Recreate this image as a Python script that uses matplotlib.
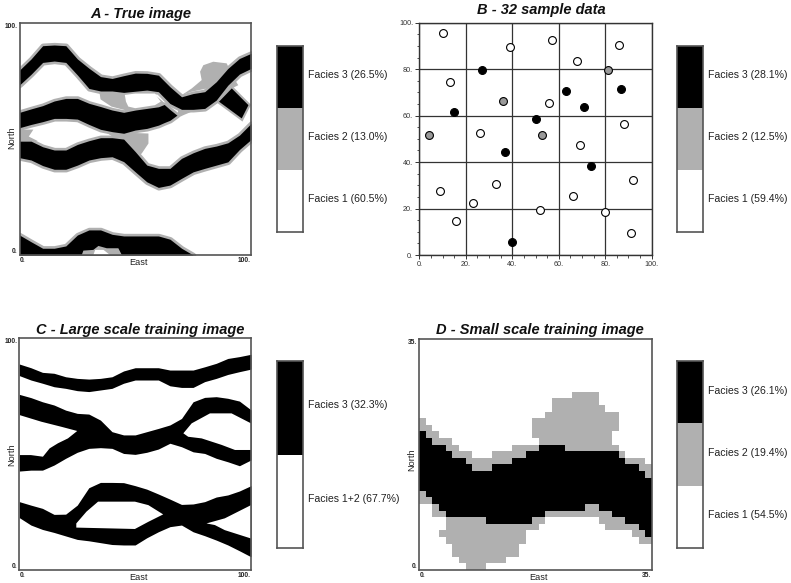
import numpy as np
import matplotlib
matplotlib.use("Agg")
import matplotlib.pyplot as plt
from matplotlib.colors import ListedColormap

W, H = 791, 583
GRAY = "#b0b0b0"
FRAME = "#555555"
plt.rcParams['font.family'] = ['Liberation Sans', 'DejaVu Sans']

titles = ["A - True image", "B - 32 sample data", "C - Large scale training image", "D - Small scale training image"]
legend_a = ["Facies 3 (26.5%)", "Facies 2 (13.0%)", "Facies 1 (60.5%)"]
legend_b = ["Facies 3 (28.1%)", "Facies 2 (12.5%)", "Facies 1 (59.4%)"]
legend_c = ["Facies 3 (32.3%)", "Facies 1+2 (67.7%)"]
legend_d = ["Facies 3 (26.1%)", "Facies 2 (19.4%)", "Facies 1 (54.5%)"]

east = [0,5,10,15,20,25,30,35,40,45,50,55,60,65,70,75,80,85,90,95,100]

# Panel A bands (north of upper / lower edge)
a1_top = [79.6,84.4,90.1,90.4,90.1,84.4,80.4,76.8,76,77.2,78.3,78.2,77.4,72.4,68.1,69.5,70.3,74.6,80.3,84.6,86.8]
a1_bot = [73.2,77.8,82.9,83.5,82.9,77.5,71.7,70.6,70.6,70,70.5,71,70.3,65.2,62.7,62.7,63.1,66.7,73.1,77.9,80.3]
a2_x = [0,5,10,15,20,25,30,35,40,45,50,55,60,62.5,65,68]
a2_top = [61.4,62.9,64.3,66.3,67.4,67.4,65.3,63.9,62.4,61.4,62.4,63.1,63.8,64.8,62.6,60.2]
a2_bot = [54.8,56.2,57.4,58.8,58.8,58.5,56.2,54.1,53.1,52.4,53.8,54.5,55.9,57,58,60.2]
a3_top = [49,49,46.6,45.2,45.2,47.6,49.2,50.5,50.5,49.9,44.5,38.7,37.3,37.3,41.6,44,45.9,46.9,48.3,51.6,56.6]
a3_bot = [41.9,40.9,38.5,36.9,36.9,38.7,40.9,41.9,42.3,40.2,35.8,31.5,29.1,30.1,33,35.8,37.3,38.7,40.1,45.4,49.7]
a4_x = [0,5,10,15,20,25,30,35,40,45,50,55,60,65,70,75]
a4_top = [8.6,5.7,2.9,2.9,3.9,8.6,10.8,10.8,8.9,8.2,8.2,8.2,8.2,6.8,2.9,0]

a_gray_patches = [
    [(78,78.9),(79.4,81.7),(83.7,83.2),(89.5,82.5),(90.2,81),(84.5,74.6),(80.9,71.7),(74.4,70.3),(70,68.8),(74.4,71.7),(78.7,75.3)],
    [(34.6,69.6),(40,70.5),(56,71),(62,66),(68,60.2),(64,62),(47,62),(39.7,63.9),(35,67)],
    [(37,53),(55.7,52.3),(55.7,48),(52.8,43.7),(50,42),(45,48)],
    [(0,54),(6,54),(4,51),(8,49),(0,49)],
    [(67.9,58.8),(70.8,60.2),(79.4,63.8),(74.4,64.5),(68.6,62.4)],
    [(84.5,65.2),(93.1,75.3),(94.5,73.1),(91.7,71.7),(86.6,66)],
    [(26.9,0),(27.6,1.9),(31.9,2.2),(34.1,3.9),(37.7,2.9),(42.7,2.9),(44.2,0)],
]
a_white_patches = [
    [(45.5,68.9),(50,69.5),(58.5,69.5),(61,66),(58.5,64.5),(50,63.2),(47,63.9),(46,66)],
    [(31.9,0),(32.7,2.2),(36.3,2.2),(39.1,0)],
]
a_diamond = [(86.2,66),(91.7,71.7),(98.9,64.5),(96,58.8)]

# Panel B samples
white_e = [10,39,57,68,86,13,56,88,26,69,9,33,23,16,52,66,80,92,91]
white_n = [95.5,89.5,92.5,83.5,90.5,74.5,65.5,56.5,52.5,47.5,27.5,30.5,22.5,14.5,19.5,25.5,18.5,32.5,9.5]
black_e = [27,15,63,71,87,50,37,74,40]
black_n = [79.5,61.5,70.5,63.5,71.5,58.5,44.5,38.5,5.5]
gray_e = [36,4,53,81]
gray_n = [66.5,51.5,51.5,79.5]

# Panel C
c1_top = [88.9,87.3,85.3,84.9,83.4,82.7,82.4,82.7,83.4,85.9,87.3,87.3,87.3,86.3,86.3,86.3,87.7,89.2,91.3,92.1,93.1]
c1_bot = [83.9,82,80.6,79.1,78.4,77.4,77,77.7,78.4,80.6,82,82,82,79.5,78.8,78.8,81.3,82.7,84.4,85.6,86.7]
c2_top = [75.8,74.4,72.6,71.2,69,67.6,67.3,64.7,59.7,58.3,58.3,59.7,61.1,62.6,65.4,72.6,74.5,74.8,74.1,72.9,69.1]
c2_bot = [42.7,43.1,43.1,45.3,48.2,50.8,52.5,52.8,52.5,50.3,49.9,50.8,52.2,54.7,53.2,51,50.3,48.2,46.7,45,47.5]
c3_top = [29.5,28,26.6,24,24.1,28,35.5,37.8,37.8,37.7,36.4,34.9,32.8,30.6,28.3,28.5,29.5,31.5,32.4,34.1,36.4]
c3_bot = [22.6,19.4,17.5,16.2,14.7,13.2,12.6,11.8,11,10.8,10.8,13.9,16.5,18.7,19.4,16.5,14.8,12.9,10.8,8.3,5.7]
c_white_patches = [
    [(0,66.9),(9.5,64),(18.2,61.8),(25,60),(21,56.8),(16.7,54.7),(13.1,52.5),(10.2,48.9),(5,49.6),(0,49.6)],
    [(70.8,59),(74.4,63.3),(82.3,67.6),(91.6,67.6),(100,63.3),(100,51.8),(93.1,51.8),(87.3,54),(78.7,56.8),(72.9,57.5)],
    [(24.6,20.1),(29,25.2),(34,29.5),(49.9,29.5),(55.7,28),(62.1,24),(55.7,20.8),(49.9,17.7),(24.6,18.3)],
    [(80.8,20.1),(88.7,22.3),(100,28),(100,13.6),(88.7,17.2),(84.4,19.4)],
]

# Panel D, per column cell rows
d_black_top = [21,20,19,19,18,17,17,16,15,15,15,16,16,16,17,17,18,18,19,19,19,19,18,18,18,18,18,18,18,18,17,16,16,15,14]
d_black_bot = [12,11,10,9,8,8,8,8,8,8,7,7,7,7,7,7,7,8,8,9,9,9,9,9,9,10,10,9,9,8,8,7,7,6,5]
d_gray_top = [23,22,21,20,20,19,18,18,17,17,17,18,18,18,19,19,19,23,23,24,26,26,26,27,27,27,27,25,24,24,18,17,17,17,16]
d_gray_bot = [10,10,8,8,4,2,1,0,0,0,1,1,1,2,2,4,6,6,7,8,8,8,8,8,8,8,8,7,6,6,6,6,5,4,4]
d_white_gap_cols = [17,29,29]
d_white_gap_rows = [19,19,20]
d_extra_gray_cols = [3]
d_extra_gray_rows = [5]


def rect(l, t, r, b):
    return [l/W, 1-b/H, (r-l)/W, (b-t)/H]

fig = plt.figure(figsize=(W/100, H/100), dpi=100)


def ptext(x, y, s, **kw):
    fig.text(x/W, 1-y/H, s, **kw)


def style(ax, hi):
    ax.set_xlim(0, hi)
    ax.set_ylim(0, hi)
    for s in ax.spines.values():
        s.set_color(FRAME)
        s.set_linewidth(1.2)
        s.set_zorder(10)
    ax.set_xticks([0, hi])
    ax.set_yticks([0, hi])
    ax.set_xticklabels(["0.", f"{hi}."], fontsize=4.8, fontweight='bold')
    ax.set_yticklabels(["0.", f"{hi}."], fontsize=4.8, fontweight='bold')
    ax.tick_params(length=0, pad=1.5, colors='#222222')
    xl = ax.get_xticklabels()
    xl[0].set_ha('left')
    xl[1].set_ha('right')
    yl = ax.get_yticklabels()
    yl[0].set_va('bottom')
    yl[1].set_va('top')


def colorbar(l, t, r, b, colors, labels, textx):
    ax = fig.add_axes(rect(l, t, r, b))
    n = len(colors)
    for i, c in enumerate(colors):
        ax.bar(0.5, 1, width=1, bottom=n-1-i, color=c, linewidth=0)
    ax.set_xlim(0, 1)
    ax.set_ylim(0, n)
    ax.set_xticks([])
    ax.set_yticks([])
    for s in ax.spines.values():
        s.set_color(FRAME)
        s.set_linewidth(1.2)
    step = (b-t)/n
    for i, lab in enumerate(labels):
        ptext(textx, t + step*(i+0.47)+0.5, lab, fontsize=7.55, va='center', ha='left', color='#222222')


def poly(ax, pts, **kw):
    p = np.array(pts)
    ax.fill(p[:, 0], p[:, 1], linewidth=0, **kw)


# A
axA = fig.add_axes(rect(19.5, 22.7, 251, 255))
style(axA, 100)
edge = dict(facecolor=GRAY, edgecolor=GRAY, linewidth=3.8)
axA.fill_between(east, a1_bot, a1_top, **edge)
axA.fill_between(a2_x, a2_bot, a2_top, **edge)
axA.fill_between(east, a3_bot, a3_top, **edge)
axA.fill_between(a4_x, 0, a4_top, **edge)
for pts in a_gray_patches:
    poly(axA, pts, color=GRAY)
p = np.array(a_diamond)
axA.fill(p[:, 0], p[:, 1], facecolor=GRAY, edgecolor=GRAY, linewidth=3.0)
for pts in a_white_patches:
    poly(axA, pts, color='white', zorder=3)
blk = dict(color='black', linewidth=0, zorder=4)
axA.fill_between(east, a1_bot, a1_top, **blk)
axA.fill_between(a2_x, a2_bot, a2_top, **blk)
axA.fill_between(east, a3_bot, a3_top, **blk)
axA.fill_between(a4_x, 0, a4_top, **blk)
poly(axA, a_diamond, color='black', zorder=4)
# hole in the lowest band sits on top of the black
poly(axA, a_gray_patches[-1], color=GRAY, zorder=5)
poly(axA, a_white_patches[-1], color='white', zorder=6)

# B
axB = fig.add_axes(rect(419.3, 22.7, 651.7, 255))
axB.set_xlim(0, 100)
axB.set_ylim(0, 100)
for s in axB.spines.values():
    s.set_color('#333333')
    s.set_linewidth(1.0)
maj = [0, 20, 40, 60, 80, 100]
axB.set_xticks(maj)
axB.set_yticks(maj)
axB.set_xticklabels([f"{v}." for v in maj], fontsize=5.2)
axB.set_yticklabels([f"{v}." for v in maj], fontsize=5.2)
axB.set_xticks(np.arange(0, 101, 5), minor=True)
axB.set_yticks(np.arange(0, 101, 5), minor=True)
axB.tick_params(which='major', length=3, width=0.7, pad=1.5, colors='#333333')
axB.tick_params(which='minor', length=1.8, width=0.6, colors='#333333')
axB.grid(True, which='major', color='#333333', linewidth=0.9)
axB.set_axisbelow(True)
mk = dict(s=32, edgecolors='black', linewidths=0.8, zorder=3)
axB.scatter(white_e, white_n, c='white', **mk)
axB.scatter(gray_e, gray_n, c='#999999', **mk)
axB.scatter(black_e, black_n, c='black', **mk)

# C
axC = fig.add_axes(rect(19.3, 338.3, 251, 570))
style(axC, 100)
axC.fill_between(east, c1_bot, c1_top, color='black', linewidth=0)
axC.fill_between(east, c2_bot, c2_top, color='black', linewidth=0)
axC.fill_between(east, c3_bot, c3_top, color='black', linewidth=0)
for pts in c_white_patches:
    poly(axC, pts, color='white', zorder=3)

# D
d_img = np.ones((35, 35), dtype=int)
for i in range(35):
    d_img[d_gray_bot[i]:d_gray_top[i], i] = 2
for c, r in zip(d_white_gap_cols, d_white_gap_rows):
    d_img[r, c] = 1
for c, r in zip(d_extra_gray_cols, d_extra_gray_rows):
    d_img[r, c] = 2
for i in range(35):
    d_img[d_black_bot[i]:d_black_top[i], i] = 3
axD = fig.add_axes(rect(419.3, 339, 651.5, 570))
axD.imshow(d_img, origin='lower', extent=[0, 35, 0, 35], aspect='auto',
           cmap=ListedColormap(['white', GRAY, 'black']), vmin=1, vmax=3, interpolation='nearest')
style(axD, 35)

# titles and axis labels
tk = dict(fontsize=10.5, fontweight='bold', fontstyle='italic', ha='center', va='center', color='#111111')
ptext(141, 14, titles[0], **tk)
ptext(541, 10, titles[1], **tk)
ptext(140, 330, titles[2], **tk)
ptext(540, 330, titles[3], **tk)
lk = dict(fontsize=6.6, ha='center', va='center', color='#222222')
ptext(139, 262, "East", **lk)
ptext(139, 577, "East", **lk)
ptext(539, 577, "East", **lk)
ptext(12, 138, "North", rotation=90, **lk)
ptext(12, 455, "North", rotation=90, **lk)
ptext(412, 460, "North", rotation=90, **lk)

three = ['black', GRAY, 'white']
colorbar(276.7, 45.7, 302.7, 231.7, three, legend_a, 307.5)
colorbar(677, 45.7, 703, 231.7, three, legend_b, 707.5)
colorbar(276.7, 361, 302.7, 548, ['black', 'white'], legend_c, 307.5)
colorbar(677, 361, 703, 548, three, legend_d, 707.5)

fig.savefig("out.png", dpi=100)
